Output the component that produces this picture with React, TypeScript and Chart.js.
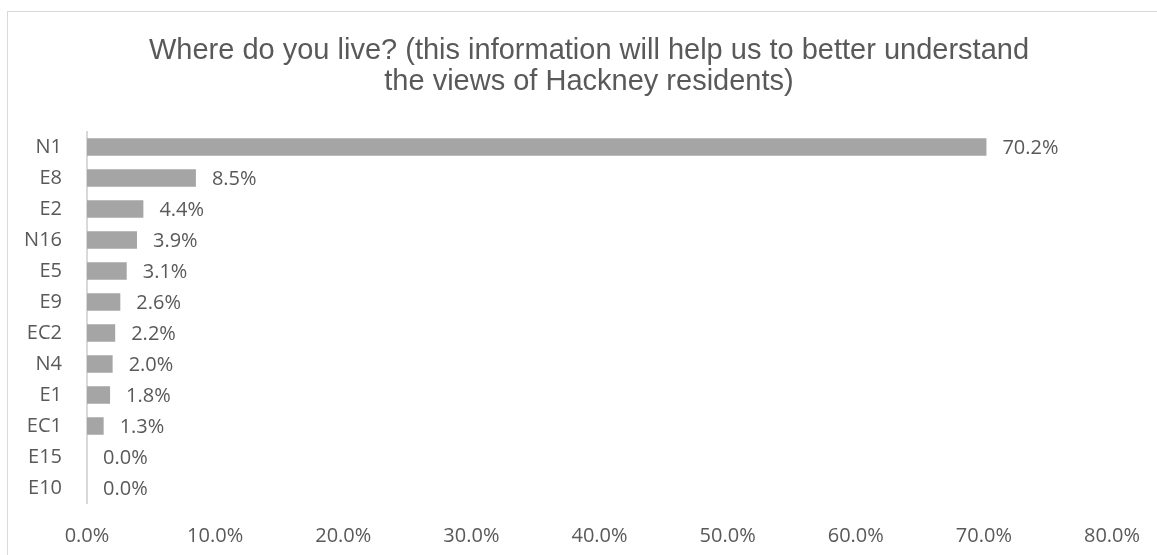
import React, { useEffect, useRef } from "react";
import { Chart, registerables } from "chart.js";

Chart.register(...registerables);

const titleLines = [
  "Where do you live? (this information will help us to better understand",
  "the views of Hackney residents)",
];
const categories = ["N1", "E8", "E2", "N16", "E5", "E9", "EC2", "N4", "E1", "EC1", "E15", "E10"];
const values = [70.2, 8.5, 4.4, 3.9, 3.1, 2.6, 2.2, 2.0, 1.8, 1.3, 0.0, 0.0];
const xTicks = [0, 10, 20, 30, 40, 50, 60, 70, 80];

const TEXT = "#595959";
const LABEL_FONT = "'Open Sans', 'Liberation Sans', sans-serif";
const TITLE_FONT = "'Liberation Sans', Arial, sans-serif";

const titlePlugin = {
  id: "customTitle",
  afterDraw(chart: any) {
    const ctx = chart.ctx;
    ctx.save();
    ctx.fillStyle = TEXT;
    ctx.font = `29px ${TITLE_FONT}`;
    ctx.textAlign = "center";
    ctx.textBaseline = "alphabetic";
    const cx = 589;
    titleLines.forEach((line, i) => ctx.fillText(line, cx, 59 + i * 31));
    ctx.restore();
  },
};

const dataLabelPlugin = {
  id: "dataLabels",
  afterDatasetsDraw(chart: any) {
    const ctx = chart.ctx;
    const meta = chart.getDatasetMeta(0);
    ctx.save();
    ctx.fillStyle = TEXT;
    ctx.font = `20px ${LABEL_FONT}`;
    ctx.textAlign = "left";
    ctx.textBaseline = "middle";
    meta.data.forEach((bar: any, i: number) => {
      ctx.fillText(values[i].toFixed(1) + "%", bar.x + 16, bar.y + 1);
    });
    ctx.restore();
  },
};

export default function App() {
  const ref = useRef<HTMLCanvasElement>(null);
  useEffect(() => {
    if (!ref.current) return;
    const chart = new Chart(ref.current, {
      type: "bar",
      data: {
        labels: categories,
        datasets: [
          {
            data: values,
            backgroundColor: "#a5a5a5",
            borderWidth: 0,
            categoryPercentage: 1,
            barPercentage: 0.57,
          },
        ],
      },
      options: {
        indexAxis: "y",
        animation: false,
        responsive: false,
        maintainAspectRatio: false,
        layout: { padding: { top: 131.5, left: 0, right: 45, bottom: 0 } },
        plugins: {
          legend: { display: false },
          title: { display: false },
          tooltip: { enabled: false },
        },
        scales: {
          x: {
            min: 0,
            max: 80,
            grid: { display: false },
            border: { display: false },
            afterBuildTicks(scale: any) {
              scale.ticks = xTicks.map((v) => ({ value: v }));
            },
            afterFit(scale: any) {
              scale.height = 51.5;
            },
            ticks: {
              padding: 13,
              color: TEXT,
              font: { family: LABEL_FONT, size: 20 },
              callback: (v: any) => Number(v).toFixed(1) + "%",
            },
          },
          y: {
            grid: { display: false },
            border: { display: true, color: "#d9d9d9", width: 2 },
            afterFit(scale: any) {
              scale.width = 87;
            },
            ticks: {
              padding: 17,
              color: TEXT,
              font: { family: LABEL_FONT, size: 20 },
            },
          },
        },
      },
      plugins: [titlePlugin, dataLabelPlugin],
    });
    return () => chart.destroy();
  }, []);

  return (
    <div
      style={{
        position: "fixed",
        left: 0,
        top: 0,
        width: 1157,
        height: 555,
        background: "#fff",
        overflow: "hidden",
      }}
    >
      <div
        style={{
          position: "absolute",
          left: 7,
          top: 11,
          width: 1300,
          height: 700,
          borderTop: "1px solid #d9d9d9",
          borderLeft: "1px solid #d9d9d9",
        }}
      />
      <canvas ref={ref} width={1157} height={555} style={{ position: "absolute", left: 0, top: 0 }} />
    </div>
  );
}
